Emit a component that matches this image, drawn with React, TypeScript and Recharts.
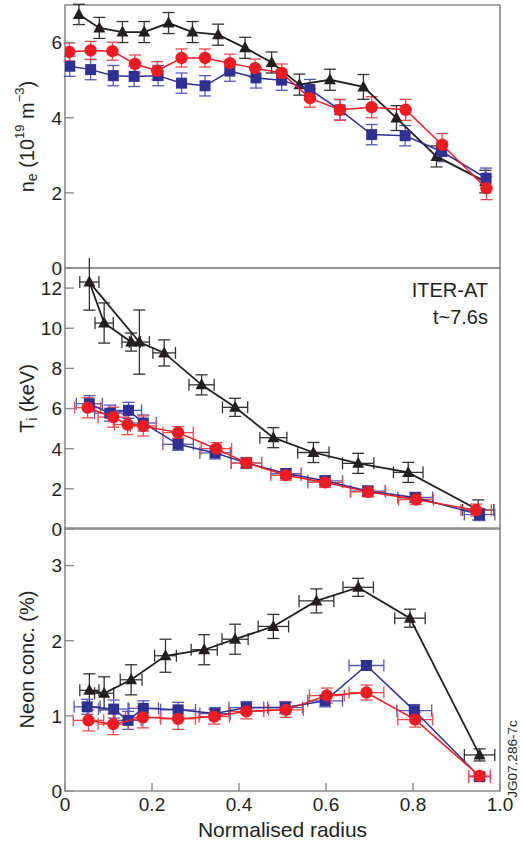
import { ScatterChart, Scatter, XAxis, YAxis, ErrorBar, ReferenceArea } from 'recharts'

const BLACK = '#231f20'
const RED = '#ed1c24'
const BLUE = '#2e3192'
const FRAME = '#8a8a8a'
const FONT = '"Liberation Sans", Arial, Helvetica, sans-serif'

const X_TICKS = [0, 0.2, 0.4, 0.6, 0.8, 1.0]

// --- n_e panel (10^19 m^-3)
const NE_X_BLACK = [0.032, 0.079, 0.132, 0.182, 0.238, 0.293, 0.352, 0.414, 0.475, 0.539, 0.609, 0.686, 0.762, 0.854, 0.966]
const NE_Y_BLACK = [6.75, 6.39, 6.28, 6.28, 6.52, 6.28, 6.21, 5.86, 5.47, 4.88, 5.01, 4.82, 3.99, 2.97, 2.30]
const NE_EY_BLACK = [0.27, 0.28, 0.28, 0.28, 0.28, 0.28, 0.28, 0.28, 0.28, 0.28, 0.28, 0.33, 0.33, 0.28, 0.30]

const NE_X_RED = [0.010, 0.059, 0.109, 0.161, 0.212, 0.268, 0.322, 0.379, 0.437, 0.498, 0.563, 0.632, 0.705, 0.783, 0.867, 0.969]
const NE_Y_RED = [5.75, 5.79, 5.77, 5.43, 5.25, 5.59, 5.59, 5.45, 5.32, 5.19, 4.52, 4.21, 4.28, 4.21, 3.28, 2.12]
const NE_EY_RED = [0.24, 0.24, 0.24, 0.24, 0.24, 0.24, 0.24, 0.24, 0.24, 0.24, 0.24, 0.28, 0.28, 0.28, 0.30, 0.30]

const NE_X_BLUE = [0.011, 0.059, 0.111, 0.159, 0.214, 0.268, 0.322, 0.379, 0.439, 0.498, 0.563, 0.632, 0.705, 0.782, 0.866, 0.968]
const NE_Y_BLUE = [5.37, 5.28, 5.12, 5.10, 5.12, 4.92, 4.85, 5.24, 5.06, 5.00, 4.75, 4.21, 3.55, 3.52, 3.10, 2.39]
const NE_EY_BLUE = [0.27, 0.27, 0.27, 0.27, 0.27, 0.27, 0.27, 0.27, 0.27, 0.27, 0.27, 0.27, 0.27, 0.27, 0.27, 0.27]

// --- T_i panel (keV), black kept in measurement order
const TI_X_BLACK = [0.152, 0.090, 0.056, 0.171, 0.228, 0.314, 0.391, 0.479, 0.571, 0.674, 0.789, 0.950]
const TI_Y_BLACK = [9.31, 10.26, 12.30, 9.31, 8.77, 7.18, 6.06, 4.55, 3.81, 3.27, 2.82, 0.95]
const TI_EY_BLACK = [0.45, 1.0, 1.4, 1.6, 0.65, 0.5, 0.45, 0.5, 0.5, 0.5, 0.5, 0.5]
const TI_EX_BLACK = [0.021, 0.021, 0.022, 0.023, 0.026, 0.029, 0.029, 0.031, 0.036, 0.036, 0.034, 0.036]

const TI_X_RED = [0.052, 0.111, 0.144, 0.180, 0.260, 0.348, 0.417, 0.508, 0.598, 0.697, 0.807, 0.945]
const TI_Y_RED = [6.04, 5.57, 5.20, 5.13, 4.80, 4.00, 3.29, 2.68, 2.32, 1.85, 1.47, 0.94]
const TI_EY_RED = [0.5, 0.5, 0.5, 0.5, 0.3, 0.3, 0.25, 0.25, 0.25, 0.25, 0.25, 0.3]
const TI_EX_RED = [0.03, 0.035, 0.03, 0.03, 0.035, 0.035, 0.035, 0.035, 0.04, 0.04, 0.04, 0.035]

const TI_X_BLUE = [0.056, 0.103, 0.146, 0.180, 0.260, 0.345, 0.417, 0.508, 0.598, 0.696, 0.805, 0.953]
const TI_Y_BLUE = [6.24, 5.77, 5.91, 5.28, 4.22, 3.79, 3.29, 2.76, 2.40, 1.89, 1.57, 0.72]
const TI_EY_BLUE = [0.4, 0.4, 0.4, 0.4, 0.3, 0.3, 0.25, 0.25, 0.25, 0.25, 0.25, 0.3]
const TI_EX_BLUE = [0.03, 0.035, 0.03, 0.03, 0.035, 0.035, 0.035, 0.035, 0.04, 0.04, 0.04, 0.035]

// --- Neon concentration panel (%)
const NEON_X_BLACK = [0.056, 0.090, 0.152, 0.231, 0.320, 0.391, 0.479, 0.578, 0.674, 0.793, 0.953]
const NEON_Y_BLACK = [1.34, 1.30, 1.48, 1.80, 1.88, 2.02, 2.19, 2.53, 2.71, 2.30, 0.48]
const NEON_EY_BLACK = [0.22, 0.22, 0.2, 0.22, 0.2, 0.2, 0.16, 0.16, 0.12, 0.12, 0.08]
const NEON_EX_BLACK = [0.022, 0.022, 0.025, 0.025, 0.03, 0.03, 0.035, 0.04, 0.035, 0.035, 0.035]

const NEON_X_BLUE = [0.051, 0.112, 0.145, 0.180, 0.260, 0.345, 0.417, 0.506, 0.598, 0.693, 0.803, 0.953]
const NEON_Y_BLUE = [1.12, 1.09, 0.94, 1.10, 1.08, 1.03, 1.11, 1.11, 1.20, 1.67, 1.07, 0.19]
const NEON_EY_BLUE = [0.1, 0.12, 0.12, 0.1, 0.1, 0.08, 0.08, 0.08, 0.08, 0.06, 0.08, 0.05]
const NEON_EX_BLUE = [0.03, 0.035, 0.03, 0.035, 0.04, 0.035, 0.04, 0.04, 0.04, 0.04, 0.04, 0.025]

const NEON_X_RED = [0.054, 0.111, 0.179, 0.260, 0.343, 0.417, 0.508, 0.602, 0.693, 0.805, 0.953]
const NEON_Y_RED = [0.94, 0.89, 0.98, 0.96, 0.99, 1.06, 1.08, 1.27, 1.31, 0.95, 0.20]
const NEON_EY_RED = [0.14, 0.14, 0.14, 0.14, 0.1, 0.1, 0.1, 0.1, 0.1, 0.1, 0.05]
const NEON_EX_RED = [0.035, 0.035, 0.04, 0.04, 0.035, 0.04, 0.04, 0.04, 0.04, 0.04, 0.025]

function rows(xs: number[], ys: number[], ey: number[], ex?: number[]) {
  return xs.map((x, i) => ({ x, y: ys[i], ey: ey[i], ex: ex ? ex[i] : 0 }))
}

const Triangle = (p: any) => (
  <polygon points={`${p.cx},${p.cy - 6.5} ${p.cx + 6},${p.cy + 4.5} ${p.cx - 6},${p.cy + 4.5}`} fill={BLACK} />
)
const Dot = (p: any) => <circle cx={p.cx} cy={p.cy} r={6.2} fill={RED} />
const Square = (p: any) => <rect x={p.cx - 5.5} y={p.cy - 5.5} width={11} height={11} fill={BLUE} />

function YTick(props: any) {
  const { x, y, payload } = props
  return (
    <g>
      <line x1={x + 3} x2={x + 12} y1={y} y2={y} stroke={FRAME} strokeWidth={1.4} />
      <text x={x} y={y} dy="0.36em" textAnchor="end" fontSize={19} fontFamily={FONT} fill={BLACK}>
        {payload.value}
      </text>
    </g>
  )
}

function XTickInner(props: any) {
  const { x, y } = props
  return <line x1={x} x2={x} y1={y} y2={y - 8} stroke={FRAME} strokeWidth={1.4} />
}

function XTickLabel(props: any) {
  const { x, y, payload } = props
  const v = payload.value === 1 ? '1.0' : String(payload.value)
  return (
    <g>
      <line x1={x} x2={x} y1={y - 7} y2={y - 15} stroke={FRAME} strokeWidth={1.4} />
      <text x={x} y={y} dy="0.71em" textAnchor="middle" fontSize={19} fontFamily={FONT} fill={BLACK}>
        {v}
      </text>
    </g>
  )
}

function RotLabel({ viewBox, children }: any) {
  const cy = viewBox ? viewBox.y + viewBox.height / 2 : 0
  const cx = 27
  return (
    <text
      x={cx} y={cy} transform={`rotate(-90, ${cx}, ${cy})`}
      textAnchor="middle" dominantBaseline="central"
      fontSize={20} fontFamily={FONT} fill={BLACK}
    >
      {children}
    </text>
  )
}

function Panel({ top, height, marginTop, marginBottom, xHeight, domain, ticks, label, showX, children }: any) {
  return (
    <div style={{ position: 'absolute', left: 0, top }}>
      <ScatterChart width={523} height={height} margin={{ top: marginTop, right: 23, bottom: marginBottom, left: 10 }}>
        <ReferenceArea x1={0} x2={1} y1={domain[0]} y2={domain[1]} fill="none" stroke={FRAME} strokeWidth={1.6} />
        <XAxis
          type="number" dataKey="x" domain={[0, 1]} ticks={X_TICKS} allowDataOverflow
          height={xHeight} axisLine={false} tickLine={false} tickSize={0}
          tickMargin={showX ? 7 : 0}
          tick={showX ? <XTickLabel /> : <XTickInner />}
          label={showX ? { value: 'Normalised radius', position: 'insideBottom', offset: 9, fontSize: 21, fontFamily: FONT, fill: BLACK } : undefined}
        />
        <YAxis
          type="number" dataKey="y" domain={domain} ticks={ticks} allowDataOverflow
          width={55} axisLine={false} tickLine={false} tickSize={0} tickMargin={3}
          tick={<YTick />} label={label}
        />
        {children}
      </ScatterChart>
    </div>
  )
}

function blackSeries(data: any[], errX: boolean) {
  return (
    <Scatter data={data} dataKey="y" fill={BLACK} shape={Triangle} line={{ stroke: BLACK, strokeWidth: 1.8 }} lineType="joint" isAnimationActive={false}>
      <ErrorBar dataKey="ey" direction="y" width={6} stroke="#333" strokeWidth={1.3} />
      {errX && <ErrorBar dataKey="ex" direction="x" width={6} stroke="#333" strokeWidth={1.3} />}
    </Scatter>
  )
}
function blueSeries(data: any[], errX: boolean) {
  return (
    <Scatter data={data} dataKey="y" fill={BLUE} shape={Square} line={{ stroke: BLUE, strokeWidth: 1.5 }} lineType="joint" isAnimationActive={false}>
      <ErrorBar dataKey="ey" direction="y" width={6} stroke="#5458b4" strokeWidth={1.3} />
      {errX && <ErrorBar dataKey="ex" direction="x" width={6} stroke="#5458b4" strokeWidth={1.3} />}
    </Scatter>
  )
}
function redSeries(data: any[], errX: boolean) {
  return (
    <Scatter data={data} dataKey="y" fill={RED} shape={Dot} line={{ stroke: RED, strokeWidth: 1.5 }} lineType="joint" isAnimationActive={false}>
      <ErrorBar dataKey="ey" direction="y" width={6} stroke="#f0494f" strokeWidth={1.3} />
      {errX && <ErrorBar dataKey="ex" direction="x" width={6} stroke="#f0494f" strokeWidth={1.3} />}
    </Scatter>
  )
}

export default function App() {
  const neBlack = rows(NE_X_BLACK, NE_Y_BLACK, NE_EY_BLACK)
  const neRed = rows(NE_X_RED, NE_Y_RED, NE_EY_RED)
  const neBlue = rows(NE_X_BLUE, NE_Y_BLUE, NE_EY_BLUE)
  const tiBlack = rows(TI_X_BLACK, TI_Y_BLACK, TI_EY_BLACK, TI_EX_BLACK)
  const tiRed = rows(TI_X_RED, TI_Y_RED, TI_EY_RED, TI_EX_RED)
  const tiBlue = rows(TI_X_BLUE, TI_Y_BLUE, TI_EY_BLUE, TI_EX_BLUE)
  const neonBlack = rows(NEON_X_BLACK, NEON_Y_BLACK, NEON_EY_BLACK, NEON_EX_BLACK)
  const neonRed = rows(NEON_X_RED, NEON_Y_RED, NEON_EY_RED, NEON_EX_RED)
  const neonBlue = rows(NEON_X_BLUE, NEON_Y_BLUE, NEON_EY_BLUE, NEON_EX_BLUE)

  const neLabel = (
    <RotLabel>
      n<tspan fontSize={14} dy={5}>e</tspan>
      <tspan dy={-5}> (10</tspan>
      <tspan fontSize={13} dy={-8}>19</tspan>
      <tspan dy={8}> m</tspan>
      <tspan fontSize={13} dy={-8}>−3</tspan>
      <tspan dy={8}>)</tspan>
    </RotLabel>
  )
  const tiLabel = (
    <RotLabel>
      T<tspan fontSize={14} dy={5}>i</tspan>
      <tspan dy={-5}> (keV)</tspan>
    </RotLabel>
  )
  const neonLabel = <RotLabel>Neon conc. (%)</RotLabel>

  return (
    <div style={{ position: 'absolute', left: 0, top: 0, width: 523, height: 846, background: '#fff', fontFamily: FONT }}>
      <Panel top={0} height={283} marginTop={5} marginBottom={15} xHeight={0} domain={[0, 7]} ticks={[0, 2, 4, 6]} label={neLabel}>
        {blackSeries(neBlack, false)}
        {blueSeries(neBlue, false)}
        {redSeries(neRed, false)}
      </Panel>
      <Panel top={258} height={286} marginTop={10} marginBottom={15} xHeight={0} domain={[0, 13]} ticks={[0, 2, 4, 6, 8, 10, 12]} label={tiLabel}>
        {blackSeries(tiBlack, true)}
        {blueSeries(tiBlue, true)}
        {redSeries(tiRed, true)}
      </Panel>
      <Panel top={518} height={328} marginTop={10} marginBottom={0} xHeight={55} domain={[0, 3.5]} ticks={[0, 1, 2, 3]} label={neonLabel} showX>
        {blackSeries(neonBlack, true)}
        {blueSeries(neonBlue, true)}
        {redSeries(neonRed, true)}
      </Panel>
      <div style={{ position: 'absolute', right: 35, top: 277, textAlign: 'right', fontSize: 20, lineHeight: '27px', color: BLACK }}>
        <div>ITER-AT</div>
        <div>t~7.6s</div>
      </div>
      <div style={{ position: 'absolute', left: 512, top: 759, fontSize: 13.5, color: BLACK, transform: 'translate(-50%, -50%) rotate(-90deg)', whiteSpace: 'nowrap' }}>
        JG07.286-7c
      </div>
    </div>
  )
}
